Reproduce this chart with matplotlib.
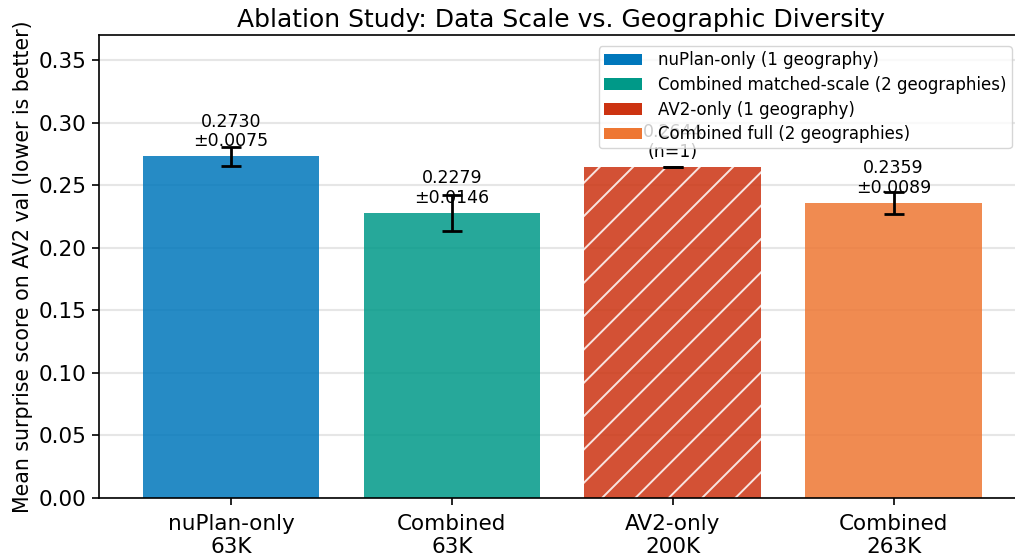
import matplotlib.pyplot as plt
from matplotlib.patches import Patch

# data
labels = ['nuPlan-only\n63K', 'Combined\n63K', 'AV2-only\n200K', 'Combined\n263K']
legend_names = ['nuPlan-only (1 geography)', 'Combined matched-scale (2 geographies)',
                'AV2-only (1 geography)', 'Combined full (2 geographies)']
means = [0.2730, 0.2279, 0.2644, 0.2359]
stds = [0.0075, 0.0146, 0.0, 0.0089]
n_runs = [3, 3, 1, 3]
colors = ['#0077BB', '#009988', '#CC3311', '#EE7733']

plt.rcParams['hatch.linewidth'] = 1.4
plt.rcParams['axes.linewidth'] = 1.2

fig = plt.figure(figsize=(10.15, 5.58), dpi=100)
ax = fig.add_axes([98.5 / 1015, 60 / 558, 925.5 / 1015, 463 / 558])

x = range(len(means))
bars = ax.bar(x, means, width=0.8, color=colors, alpha=0.85, zorder=2)
bars[2].set_hatch('/')
bars[2].set_edgecolor('white')
bars[2].set_linewidth(0)
ax.errorbar(x, means, yerr=stds, fmt='none', ecolor='black', capsize=7.5,
            capthick=2, elinewidth=2, zorder=3)

for i in x:
    if n_runs[i] == 1:
        txt = f'{means[i]:.4f}\n(n=1)'
    else:
        txt = f'{means[i]:.4f}\n±{stds[i]:.4f}'
    ax.text(i, means[i] + 0.005, txt, ha='center', va='bottom', fontsize=12.5,
            linespacing=1.1, zorder=4)

ax.set_xticks(list(x))
ax.set_xticklabels(labels, fontsize=15.5, linespacing=1.2)
ax.tick_params(axis='y', labelsize=15.5)
ax.tick_params(length=5, width=1.2)
ax.tick_params(axis='x', pad=6.5)
ax.set_ylim(0, 0.37)
ax.set_xlim(-0.6, 3.59)
ax.set_ylabel('Mean surprise score on AV2 val (lower is better)', fontsize=14.8)
ax.set_title('Ablation Study: Data Scale vs. Geographic Diversity', fontsize=18)
ax.yaxis.grid(True, color='#e6e6e6', linewidth=1.5, zorder=0)
ax.set_axisbelow(True)

handles = [Patch(facecolor=c, label=n) for c, n in zip(colors, legend_names)]
ax.legend(handles=handles, loc='upper right', bbox_to_anchor=(1020 / 1015, 1 - 38 / 558),
          bbox_transform=fig.transFigure, fontsize=12, framealpha=0.8,
          borderpad=0.3, labelspacing=0.4, handlelength=2.3, handletextpad=0.95)

fig.savefig('out.png', dpi=100)
